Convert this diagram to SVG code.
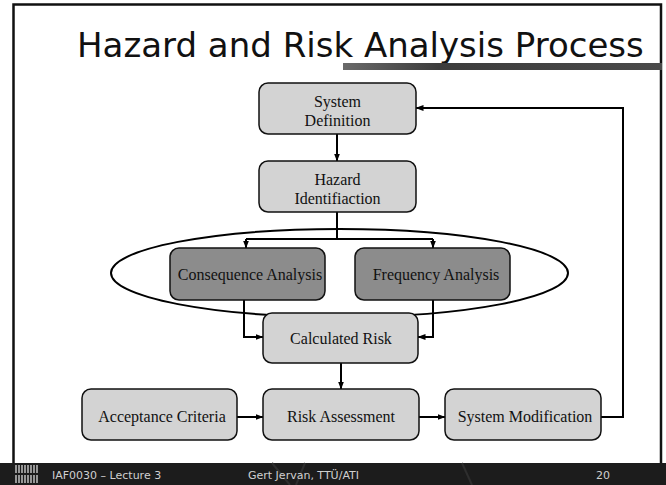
<svg xmlns="http://www.w3.org/2000/svg" width="666" height="485" viewBox="0 0 666 485">
  <defs>
    <marker id="arrow" markerUnits="userSpaceOnUse" markerWidth="8" markerHeight="6" refX="7.5" refY="3" orient="auto">
      <path d="M0,0 L8,3 L0,6 z" fill="#000"/>
    </marker>
    <linearGradient id="titleBar" x1="0" y1="0" x2="1" y2="0">
      <stop offset="0" stop-color="#6a6a6a"/>
      <stop offset="0.3" stop-color="#3c3c3c"/>
      <stop offset="1" stop-color="#4a4a4a"/>
    </linearGradient>
    <style>
      .box { stroke: #111; stroke-width: 1.5; }
      .light { fill: #d3d3d3; }
      .dark { fill: #8c8c8c; }
      .lbl { font-family: "Liberation Serif", "Times New Roman", serif; font-size: 16px; fill: #111; text-anchor: middle; }
      .conn { fill: none; stroke: #000; stroke-width: 2; }
      .foot { font-family: "DejaVu Sans", Verdana, sans-serif; font-size: 11px; fill: #d0d0d0; }
    </style>
  </defs>

  <!-- slide background and frame -->
  <rect x="0" y="0" width="666" height="485" fill="#fff"/>
  <path d="M13.5,464 V4.5 H661 V464" fill="none" stroke="#111" stroke-width="2.5"/>

  <!-- title -->
  <text x="77" y="57" font-family="DejaVu Sans, Verdana, sans-serif" font-size="34" fill="#111">Hazard and Risk Analysis Process</text>
  <rect x="343" y="63" width="319" height="7" fill="url(#titleBar)"/>

  <!-- grouping ellipse -->
  <ellipse cx="339.5" cy="273" rx="228.5" ry="44" fill="none" stroke="#000" stroke-width="2"/>

  <!-- connectors -->
  <g id="connectors">
    <path class="conn" d="M337,134 V161" marker-end="url(#arrow)"/>
    <path class="conn" d="M337,212 V239"/>
    <path class="conn" d="M246,239 H433"/>
    <path class="conn" d="M246,239 V248" marker-end="url(#arrow)"/>
    <path class="conn" d="M433,239 V248" marker-end="url(#arrow)"/>
    <path class="conn" d="M244,300 V337 H263" marker-end="url(#arrow)"/>
    <path class="conn" d="M433,300 V337 H418" marker-end="url(#arrow)"/>
    <path class="conn" d="M341,363 V389" marker-end="url(#arrow)"/>
    <path class="conn" d="M237,417 H263" marker-end="url(#arrow)"/>
    <path class="conn" d="M419,417 H445" marker-end="url(#arrow)"/>
    <path class="conn" d="M601,417 H623 V108 H416" marker-end="url(#arrow)"/>
  </g>

  <!-- nodes -->
  <g id="system-definition">
    <rect class="box light" x="259" y="83" width="157" height="51" rx="9"/>
    <text class="lbl" x="337.5" y="107">System</text>
    <text class="lbl" x="337.5" y="126">Definition</text>
  </g>
  <g id="hazard-identification">
    <rect class="box light" x="259" y="161" width="157" height="51" rx="9"/>
    <text class="lbl" x="337.5" y="185">Hazard</text>
    <text class="lbl" x="337.5" y="204">Identifiaction</text>
  </g>
  <g id="consequence-analysis">
    <rect class="box dark" x="170" y="248" width="155" height="52" rx="9"/>
    <text class="lbl" x="250" y="280">Consequence Analysis</text>
  </g>
  <g id="frequency-analysis">
    <rect class="box dark" x="355" y="248" width="155" height="52" rx="9"/>
    <text class="lbl" x="436" y="280">Frequency Analysis</text>
  </g>
  <g id="calculated-risk">
    <rect class="box light" x="263" y="313" width="155" height="50" rx="9"/>
    <text class="lbl" x="341" y="344">Calculated Risk</text>
  </g>
  <g id="acceptance-criteria">
    <rect class="box light" x="82" y="389" width="155" height="51" rx="9"/>
    <text class="lbl" x="162" y="422">Acceptance Criteria</text>
  </g>
  <g id="risk-assessment">
    <rect class="box light" x="263" y="389" width="156" height="51" rx="9"/>
    <text class="lbl" x="341" y="422">Risk Assessment</text>
  </g>
  <g id="system-modification">
    <rect class="box light" x="445" y="389" width="156" height="51" rx="9"/>
    <text class="lbl" x="525" y="422">System Modification</text>
  </g>

  <!-- footer band -->
  <rect x="0" y="463" width="666" height="22" fill="#1c1c1c"/>
  <g stroke="#2e2e2e" stroke-width="2" fill="none">
    <path d="M272,463 L290,485"/>
    <path d="M305,463 L296,485"/>
    <path d="M462,463 L472,485"/>
  </g>
  <g stroke="#e8e8e8" stroke-width="1.2" stroke-dasharray="8,2">
    <path d="M16,465 V485 M19,465 V485 M22,465 V485 M25,465 V485 M28,465 V485 M31,465 V485 M34,465 V485 M37,465 V485"/>
  </g>
  <text class="foot" x="52" y="479">IAF0030 – Lecture 3</text>
  <text class="foot" x="248" y="479">Gert Jervan, TTÜ/ATI</text>
  <text class="foot" x="596" y="479">20</text>
</svg>
